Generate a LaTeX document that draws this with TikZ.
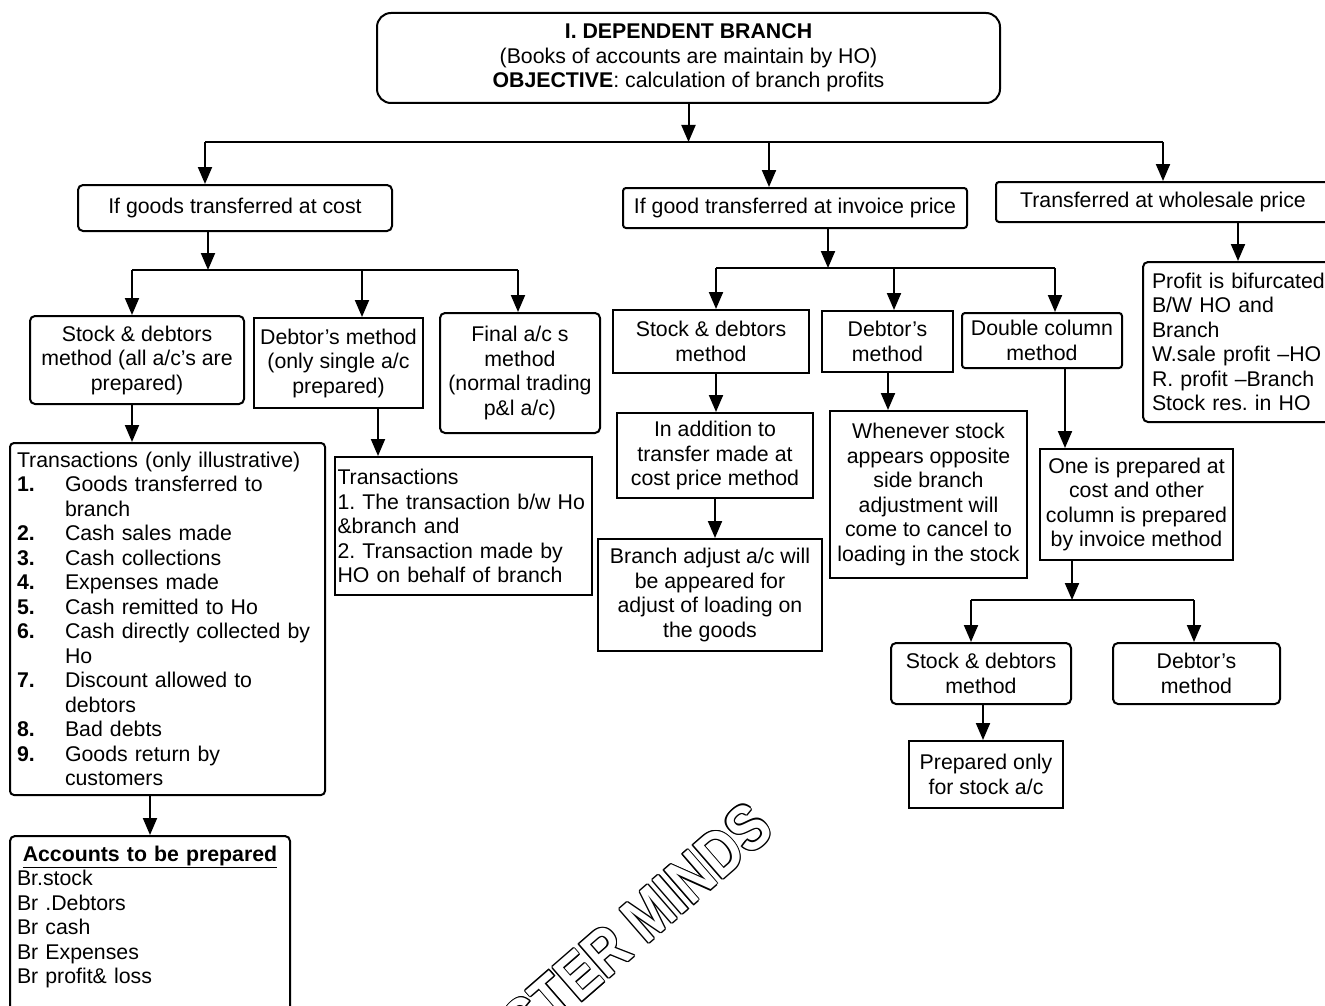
\documentclass[tikz,border=0pt]{standalone}
\usepackage{fontspec}
\setmainfont{Liberation Sans}
\usepackage{tikz}
\usetikzlibrary{arrows.meta}
\frenchspacing

\begin{document}
\begin{tikzpicture}[x=1pt, y=-1pt,
  every node/.style={font=\fontsize{21.3}{24.5}\selectfont, inner sep=0pt},
  wh/.style 2 args={minimum width=#1, minimum height=#2},
  rbox/.style={draw, line width=2pt, rounded corners=5pt, align=center},
  sbox/.style={draw, line width=2pt, align=center},
  lbox/.style={draw, line width=2pt, rounded corners=5pt, align=left, inner xsep=7pt},
  arr/.style={-{Triangle[length=17pt,width=14pt]}, line width=2pt},
  bar/.style={line width=2pt},
  wmark/.style={rotate=41, xscale=0.82, font=\fontsize{65}{65}\selectfont\bfseries}]
  \useasboundingbox (0,0) rectangle (1325,1006);
  \clip (0,0) rectangle (1325,1006);

  % top level
  \node[rbox, rounded corners=14pt, wh={623pt}{90pt}] (head) at (688.5,58)
    {\textbf{I. DEPENDENT BRANCH}\\(Books of accounts are maintain by HO)\\\textbf{OBJECTIVE}: calculation of branch profits};
  \node[rbox, wh={314pt}{46pt}] (cost) at (235,208) {If goods transferred at cost};
  \node[rbox, rounded corners=3pt, wh={344pt}{40pt}] (invoice) at (795,208) {If good transferred at invoice price};
  \node[rbox, rounded corners=3pt, wh={334pt}{40pt}] (whole) at (1163,202) {Transferred at wholesale price};

  \coordinate (barA) at (205,142);
  \coordinate (barAm) at (769,142);
  \coordinate (barAr) at (1163,142);
  \draw[bar] (barA) -- (barAr);
  \draw[arr] (head.south) -- (head.south |- barA);
  \draw[arr] (barA) -- (barA |- cost.north);
  \draw[arr] (barAm) -- (barAm |- invoice.north);
  \draw[arr] (barAr) -- (whole.north);

  % goods at cost
  \node[rbox, wh={214pt}{88pt}] (sdc) at (137,360) {Stock \& debtors\\method (all a/c’s are\\prepared)};
  \node[sbox, wh={169pt}{90pt}] (dmc) at (338.5,363) {Debtor’s method\\(only single a/c\\prepared)};
  \node[rbox, wh={160pt}{120pt}] (fin) at (520,373) {Final a/c s\\method\\(normal trading\\p\&l a/c)};

  \coordinate (barB) at (132,270);
  \coordinate (barBm) at (362,270);
  \coordinate (barBr) at (518,270);
  \coordinate (barBc) at (208,270);
  \draw[bar] (barB) -- (barBr);
  \draw[arr] (cost.south -| barBc) -- (barBc);
  \draw[arr] (barB) -- (barB |- sdc.north);
  \draw[arr] (barBm) -- (barBm |- dmc.north);
  \draw[arr] (barBr) -- (barBr |- fin.north);

  \node[lbox, rounded corners=4pt, wh={315pt}{352pt}, text width=301pt] (trans) at (167.5,619)
    {Transactions (only illustrative)\\
     \makebox[48pt][l]{\textbf{1.}}Goods transferred to\\\hspace*{48pt}branch\\
     \makebox[48pt][l]{\textbf{2.}}Cash sales made\\
     \makebox[48pt][l]{\textbf{3.}}Cash collections\\
     \makebox[48pt][l]{\textbf{4.}}Expenses made\\
     \makebox[48pt][l]{\textbf{5.}}Cash remitted to Ho\\
     \makebox[48pt][l]{\textbf{6.}}Cash directly collected by\\\hspace*{48pt}Ho\\
     \makebox[48pt][l]{\textbf{7.}}Discount allowed to\\\hspace*{48pt}debtors\\
     \makebox[48pt][l]{\textbf{8.}}Bad debts\\
     \makebox[48pt][l]{\textbf{9.}}Goods return by\\\hspace*{48pt}customers};
  \node[lbox, wh={280pt}{182pt}, text width=266pt] (acc) at (150,927)
    {\makebox[266pt][c]{\underline{\textbf{Accounts to be prepared}}}\\
     Br.stock\\Br .Debtors\\Br cash\\Br Expenses\\Br profit\& loss\\\mbox{}};
  \node[sbox, align=left, inner xsep=2.5pt, wh={257pt}{138pt}, text width=252pt] (trans2) at (463.5,526)
    {Transactions\\\mbox{1. The transaction b/w Ho}\\\&branch and\\2. Transaction made by\\HO on behalf of branch};

  \draw[arr] (sdc.south -| barB) -- (trans.north -| barB);
  \coordinate (accx) at (150,800);
  \draw[arr] (trans.south -| accx) -- (acc.north -| accx);
  \coordinate (dmx) at (378,420);
  \draw[arr] (dmc.south -| dmx) -- (trans2.north -| dmx);

  % invoice price
  \node[sbox, wh={196pt}{63pt}] (sdi) at (711,341.5) {Stock \& debtors\\method};
  \node[sbox, wh={131pt}{61pt}] (dmi) at (887.5,341.5) {Debtor’s\\method};
  \node[rbox, rounded corners=3pt, wh={160pt}{55pt}] (dcol) at (1042,340.5) {Double column\\method};

  \coordinate (barC) at (716,268);
  \coordinate (barCm) at (894,268);
  \coordinate (barCr) at (1055,268);
  \coordinate (barCc) at (828,268);
  \draw[bar] (barC) -- (barCr);
  \draw[arr] (invoice.south -| barCc) -- (barCc);
  \draw[arr] (barC) -- (barC |- sdi.north);
  \draw[arr] (barCm) -- (barCm |- dmi.north);
  \draw[arr] (barCr) -- (barCr |- dcol.north);

  \node[sbox, wh={196pt}{85pt}] (add) at (715,455.5) {In addition to\\transfer made at\\cost price method};
  \node[sbox, wh={224pt}{112pt}] (badj) at (710,595) {Branch adjust a/c will\\be appeared for\\adjust of loading on\\the goods};
  \node[sbox, wh={197pt}{167pt}] (when) at (928.5,494.5)
    {Whenever stock\\appears opposite\\side branch\\adjustment will\\come to cancel to\\loading in the stock};
  \node[sbox, wh={193pt}{111pt}] (one) at (1136.5,504.5) {One is prepared at\\cost and other\\column is prepared\\by invoice method};

  \draw[arr] (sdi.south -| barC) -- (add.north -| barC);
  \draw[arr] (add.south) -- (badj.north -| add.south);
  \coordinate (whx) at (888,380);
  \draw[arr] (dmi.south -| whx) -- (when.north -| whx);
  \coordinate (onex) at (1065,380);
  \draw[arr] (dcol.south -| onex) -- (one.north -| onex);

  \node[rbox, wh={180pt}{61pt}] (sd2) at (981,673.5) {Stock \& debtors\\method};
  \node[rbox, wh={167pt}{61pt}] (dm2) at (1196.5,673.5) {Debtor’s\\method};
  \node[sbox, wh={154pt}{67pt}] (prep) at (986,774.5) {Prepared only\\for stock a/c};

  \coordinate (barD) at (971,600);
  \coordinate (barDr) at (1194,600);
  \coordinate (barDc) at (1072,600);
  \draw[bar] (barD) -- (barDr);
  \draw[arr] (one.south -| barDc) -- (barDc);
  \draw[arr] (barD) -- (barD |- sd2.north);
  \draw[arr] (barDr) -- (barDr |- dm2.north);
  \coordinate (prx) at (983,710);
  \draw[arr] (sd2.south -| prx) -- (prep.north -| prx);

  % wholesale price
  \node[lbox, inner xsep=9pt, wh={197pt}{160pt}, text width=179pt] (profit) at (1241.5,342)
    {Profit is bifurcated\\B/W HO and\\Branch\\W.sale profit –HO\\R. profit –Branch\\Stock res. in HO};
  \coordinate (prfx) at (1238,230);
  \draw[arr] (whole.south -| prfx) -- (profit.north -| prfx);

  % watermark (outline drawn as black copies under a white copy)
  \foreach \a in {0,45,...,315}
    \node[wmark, text=black, shift={(\a:1.4)}] at (606,951) {MASTER MINDS};
  \node[wmark, text=white] (mark) at (606,951) {MASTER MINDS};
\end{tikzpicture}
\end{document}
